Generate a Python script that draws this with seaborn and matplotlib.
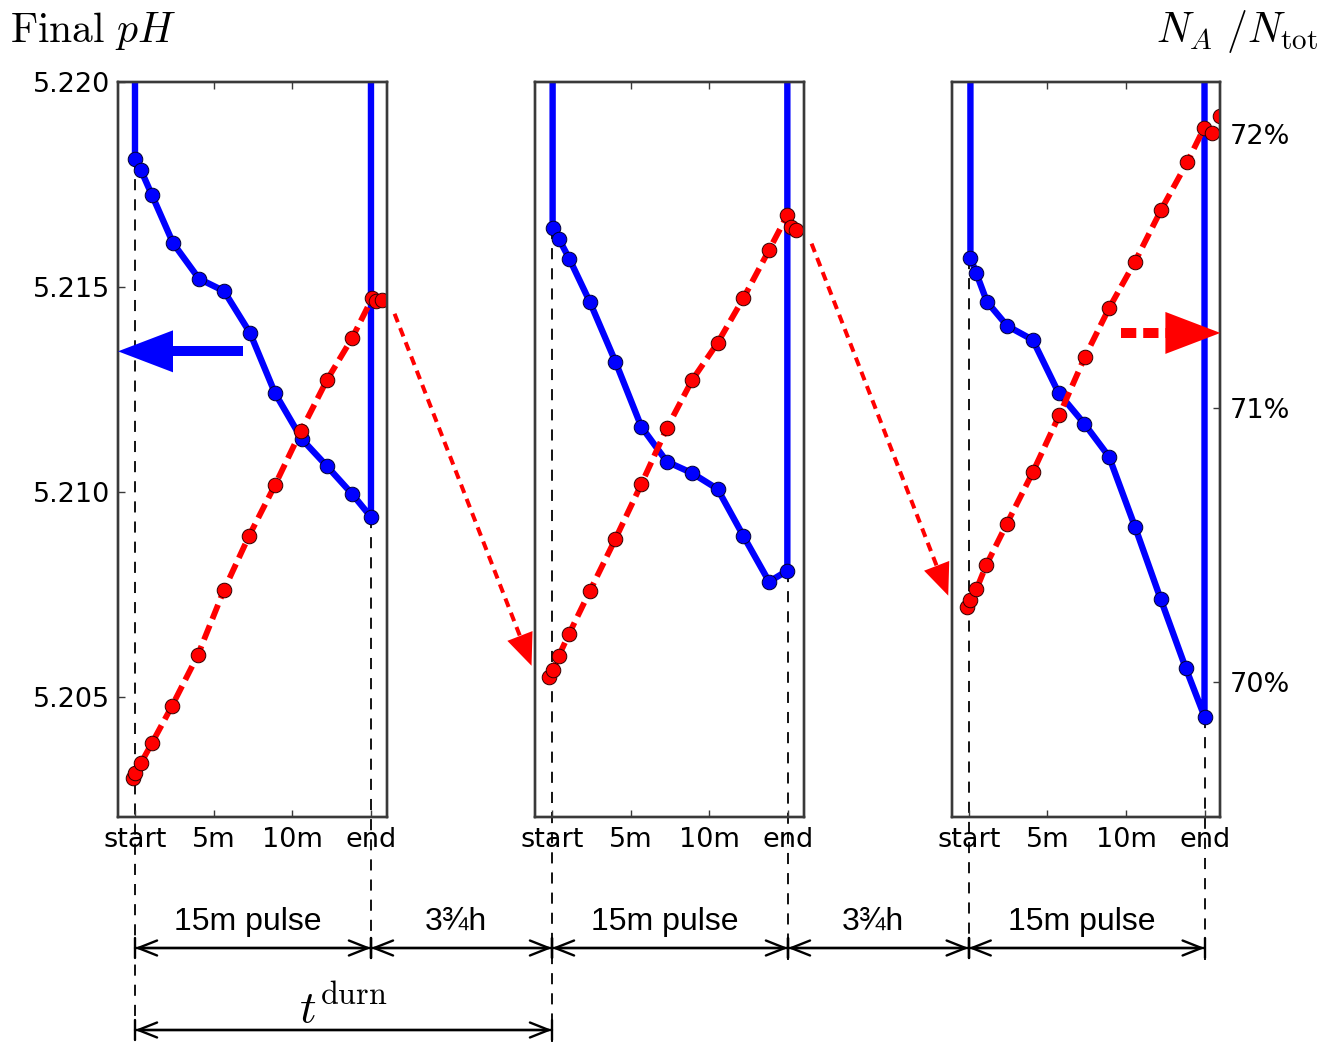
import numpy as np
import pandas as pd
import matplotlib
matplotlib.use("Agg")
import matplotlib.pyplot as plt
import seaborn as sns
from matplotlib.lines import Line2D
from matplotlib.patches import Polygon, FancyArrowPatch

# ---------------- data ----------------
x_tick_pos = [0, 5, 10, 15]
x_tick_labels = ["start", "5m", "10m", "end"]
ph_ticks = [5.205, 5.210, 5.215, 5.220]
ph_tick_labels = ["5.205", "5.210", "5.215", "5.220"]
pct_ticks = [70, 71, 72]
pct_tick_labels = ["70%", "71%", "72%"]
ph_limits = [5.20207, 5.2200]
pct_limits = [69.507, 72.19]
x_limits = [-1.08, 16.0]

# final pH (blue, left axis), minutes into each pulse
ph_time_1 = [0.0, 0.38, 1.08, 2.42, 4.07, 5.66, 7.31, 8.9, 10.6, 12.2, 13.8, 15.0]
ph_val_1 = [5.21812, 5.21785, 5.21724, 5.21607, 5.21520, 5.21490, 5.21388,
            5.21241, 5.21129, 5.21063, 5.20995, 5.20939]
ph_time_2 = [0.04, 0.44, 1.10, 2.40, 4.03, 5.68, 7.30, 8.90, 10.53, 12.16, 13.80, 14.96]
ph_val_2 = [5.21645, 5.21617, 5.21569, 5.21464, 5.21318, 5.21159, 5.21074,
            5.21046, 5.21007, 5.20893, 5.20781, 5.20808]
ph_time_3 = [0.11, 0.49, 1.16, 2.45, 4.07, 5.71, 7.36, 8.92, 10.57, 12.2, 13.8, 14.99]
ph_val_3 = [5.21571, 5.21533, 5.21464, 5.21405, 5.21371, 5.21242, 5.21166,
            5.21086, 5.20915, 5.20739, 5.20570, 5.20452]

# N_A / N_tot in % (red, right axis)
na_time_1 = [-0.13, 0.0, 0.38, 1.08, 2.35, 4.0, 5.66, 7.25, 8.9, 10.55, 12.2, 13.8, 15.07, 15.35, 15.7]
na_val_1 = [69.650, 69.668, 69.704, 69.777, 69.912, 70.099, 70.336, 70.533,
            70.719, 70.916, 71.102, 71.255, 71.400, 71.391, 71.394]
na_time_2 = [-0.17, 0.08, 0.44, 1.08, 2.41, 4.03, 5.68, 7.30, 8.91, 10.53, 12.17, 13.80, 14.96, 15.17, 15.53]
na_val_2 = [70.019, 70.044, 70.096, 70.175, 70.332, 70.522, 70.722, 70.926,
            71.102, 71.238, 71.401, 71.577, 71.704, 71.662, 71.650]
na_time_3 = [-0.08, 0.11, 0.49, 1.12, 2.42, 4.07, 5.76, 7.39, 8.92, 10.57, 12.23, 13.89, 14.95, 15.48, 15.96]
na_val_3 = [70.275, 70.299, 70.338, 70.427, 70.577, 70.765, 70.974, 71.187,
            71.364, 71.534, 71.723, 71.897, 72.021, 72.003, 72.066]

span_labels = ["15m pulse", "3\u00BEh", "15m pulse", "3\u00BEh", "15m pulse"]
duration_label = r"$t^{\mathrm{durn}}$"
left_title = r"$\mathrm{Final}\ pH$"
right_title = r"$N_A\ /N_{\mathrm{tot}}$"

ph_times = [ph_time_1, ph_time_2, ph_time_3]
ph_vals = [ph_val_1, ph_val_2, ph_val_3]
na_times = [na_time_1, na_time_2, na_time_3]
na_vals = [na_val_1, na_val_2, na_val_3]

# ---------------- style ----------------
sns.set_style("white")
plt.rcParams.update({
    "font.family": ["DejaVu Sans"],
    "mathtext.fontset": "cm",
    "lines.scale_dashes": False,
    "axes.linewidth": 1.7,
    "axes.edgecolor": "#3a3a3a",
    "text.color": "black",
})

W, H, DPI = 1329, 1042, 100
fig = plt.figure(figsize=(W / DPI, H / DPI), dpi=DPI)
fig.patch.set_facecolor("white")

lefts_px = [118, 535, 951.7]
ax_w_px, top_px, bot_px = 268.7, 82, 817
axes, twins = [], []
for i, L in enumerate(lefts_px):
    ax = fig.add_axes([L / W, (H - bot_px) / H, ax_w_px / W, (bot_px - top_px) / H])
    ax.set_facecolor("none")
    axr = ax.twinx()
    axr.set_facecolor("none")
    axes.append(ax)
    twins.append(axr)

    # blue pH line: vertical from top to first point, the curve, back to top
    t, v = ph_times[i], ph_vals[i]
    top_val = ph_limits[1] + 0.01
    xs = [t[0]] + list(t) + [t[-1]]
    ys = [top_val] + list(v) + [top_val]
    sns.lineplot(x=xs, y=ys, ax=ax, sort=False, estimator=None, color="#0000ff",
                 lw=4.6, marker="o", markersize=10.5, markeredgecolor="#000033",
                 markeredgewidth=0.7, markerfacecolor="#0000ff",
                 markevery=list(range(1, len(t) + 1)))
    # red N_A/N_tot dashed line
    sns.lineplot(x=na_times[i], y=na_vals[i], ax=axr, sort=False, estimator=None,
                 color="#ff0000", lw=4.2, linestyle=(0, (11, 5)), marker="o",
                 markersize=10.5, markeredgecolor="#330000", markeredgewidth=0.7,
                 markerfacecolor="#ff0000")

    for a in (ax, axr):
        a.set_xlim(x_limits)
        a.set_xlabel("")
        a.set_ylabel("")
    ax.set_ylim(ph_limits)
    axr.set_ylim(pct_limits)
    ax.set_xticks(x_tick_pos)
    ax.set_xticklabels(x_tick_labels)
    ax.tick_params(axis="x", direction="in", top=True, bottom=True, length=5,
                   width=1, labelsize=19.5, pad=7, colors="#3a3a3a", labelcolor="black")
    if i == 0:
        ax.set_yticks(ph_ticks)
        ax.set_yticklabels(ph_tick_labels)
        ax.tick_params(axis="y", direction="in", left=True, right=False, length=5,
                       width=1, labelsize=19.5, pad=5.5, colors="#3a3a3a", labelcolor="black")
    else:
        ax.set_yticks([])
    if i == 2:
        axr.set_yticks(pct_ticks)
        axr.set_yticklabels(pct_tick_labels)
        axr.tick_params(axis="y", direction="in", right=True, left=False, length=5,
                        width=1, labelsize=19.5, pad=7, colors="#3a3a3a", labelcolor="black")
    else:
        axr.set_yticks([])
    for s in ax.spines.values():
        s.set_zorder(5)

inv = fig.transFigure.inverted()


def to_disp(ax, x, y):
    return ax.transData.transform((x, y))


def to_fig(ax, x, y):
    return inv.transform(ax.transData.transform((x, y)))


def draw_arrow(p0, p1, head_len, head_w, shaft_px, color, dashes=None, z=4):
    p0 = np.asarray(p0, float)
    p1 = np.asarray(p1, float)
    d = p1 - p0
    u = d / np.hypot(*d)
    n = np.array([-u[1], u[0]])
    base = p1 - u * head_len
    tri = np.array([p1, base + n * head_w / 2, base - n * head_w / 2])
    fig.add_artist(Polygon(inv.transform(tri), closed=True, transform=fig.transFigure,
                           facecolor=color, edgecolor="none", zorder=z))
    pts = inv.transform(np.array([p0, base + u * 1.0]))
    ls = "-" if dashes is None else (0, dashes)
    fig.add_artist(Line2D(pts[:, 0], pts[:, 1], transform=fig.transFigure, color=color,
                          lw=shaft_px * 72 / DPI, linestyle=ls, solid_capstyle="butt",
                          dash_capstyle="butt", zorder=z))


# dashed guide lines at pulse start / end
row1_y = 1 - 948 / H
row2_y = 1 - 1030 / H
row1_end = 1 - 960 / H
for i, ax in enumerate(axes):
    v = ph_vals[i]
    for xk, vk in ((0, v[0]), (15, v[-1])):
        p = to_fig(ax, xk, vk)
        bottom = 0.0 if (xk == 0 and i in (0, 1)) else row1_end
        fig.add_artist(Line2D([p[0], p[0]], [p[1], bottom], transform=fig.transFigure,
                              color="black", lw=1.3, linestyle=(0, (8, 6.5)), zorder=-1))

# bottom spans
span_pts = [(axes[0], 0, axes[0], 15), (axes[0], 15, axes[1], 0), (axes[1], 0, axes[1], 15),
            (axes[1], 15, axes[2], 0), (axes[2], 0, axes[2], 15)]


def span(axA, xA, axB, xB, y):
    fa = to_fig(axA, xA, ph_limits[0])[0]
    fb = to_fig(axB, xB, ph_limits[0])[0]
    fig.add_artist(FancyArrowPatch((fa, y), (fb, y), transform=fig.transFigure,
                                   arrowstyle="<->,head_length=0.68,head_width=0.27",
                                   mutation_scale=20, lw=1.7, color="black",
                                   shrinkA=0, shrinkB=0, zorder=3))
    fig.add_artist(FancyArrowPatch((fa, y), (fb, y), transform=fig.transFigure,
                                   arrowstyle="|-|,widthA=0.36,widthB=0.36",
                                   mutation_scale=20, lw=1.7, color="black",
                                   shrinkA=0, shrinkB=0, zorder=3))
    return fa, fb


for (axA, xA, axB, xB), lab in zip(span_pts, span_labels):
    fa, fb = span(axA, xA, axB, xB, row1_y)
    fig.text((fa + fb) / 2 - 0.004, 1 - 922 / H, lab, ha="center", va="center",
             fontsize=23, color="black", family=["Liberation Sans", "DejaVu Sans"])

fa, fb = span(axes[0], 0, axes[1], 0, row2_y)
fig.text((fa + fb) / 2, 1 - 1023 / H, duration_label, ha="center", va="baseline",
         fontsize=33, color="black")

# titles
fig.text(10 / W, 1 - 42 / H, left_title, ha="left", va="baseline", fontsize=30, color="black")
fig.text(1318 / W, 1 - 42 / H, right_title, ha="right", va="baseline", fontsize=30, color="black")

# big blue arrow (points to left pH axis)
arrow_ph = 5.21343
draw_arrow(to_disp(axes[0], 6.87, arrow_ph), to_disp(axes[0], x_limits[0], arrow_ph),
           head_len=55, head_w=42, shaft_px=10, color="#0000ff")
# big red dashed arrow (points to right % axis)
arrow_pct = 71.274
draw_arrow(to_disp(twins[2], 9.68, arrow_pct), to_disp(twins[2], x_limits[1], arrow_pct),
           head_len=55, head_w=42, shaft_px=10, color="#ff0000", dashes=(11, 5))

# dotted red connectors between pulses
for k in range(2):
    p0 = to_disp(twins[k], 16.5, na_vals[k][-1] - 0.05)
    p1 = to_disp(twins[k + 1], -1.3, na_vals[k + 1][0] + 0.04)
    draw_arrow(p0, p1, head_len=32, head_w=27, shaft_px=4, color="#ff0000", dashes=(6.5, 4.5))

fig.savefig("out.png", dpi=DPI)
